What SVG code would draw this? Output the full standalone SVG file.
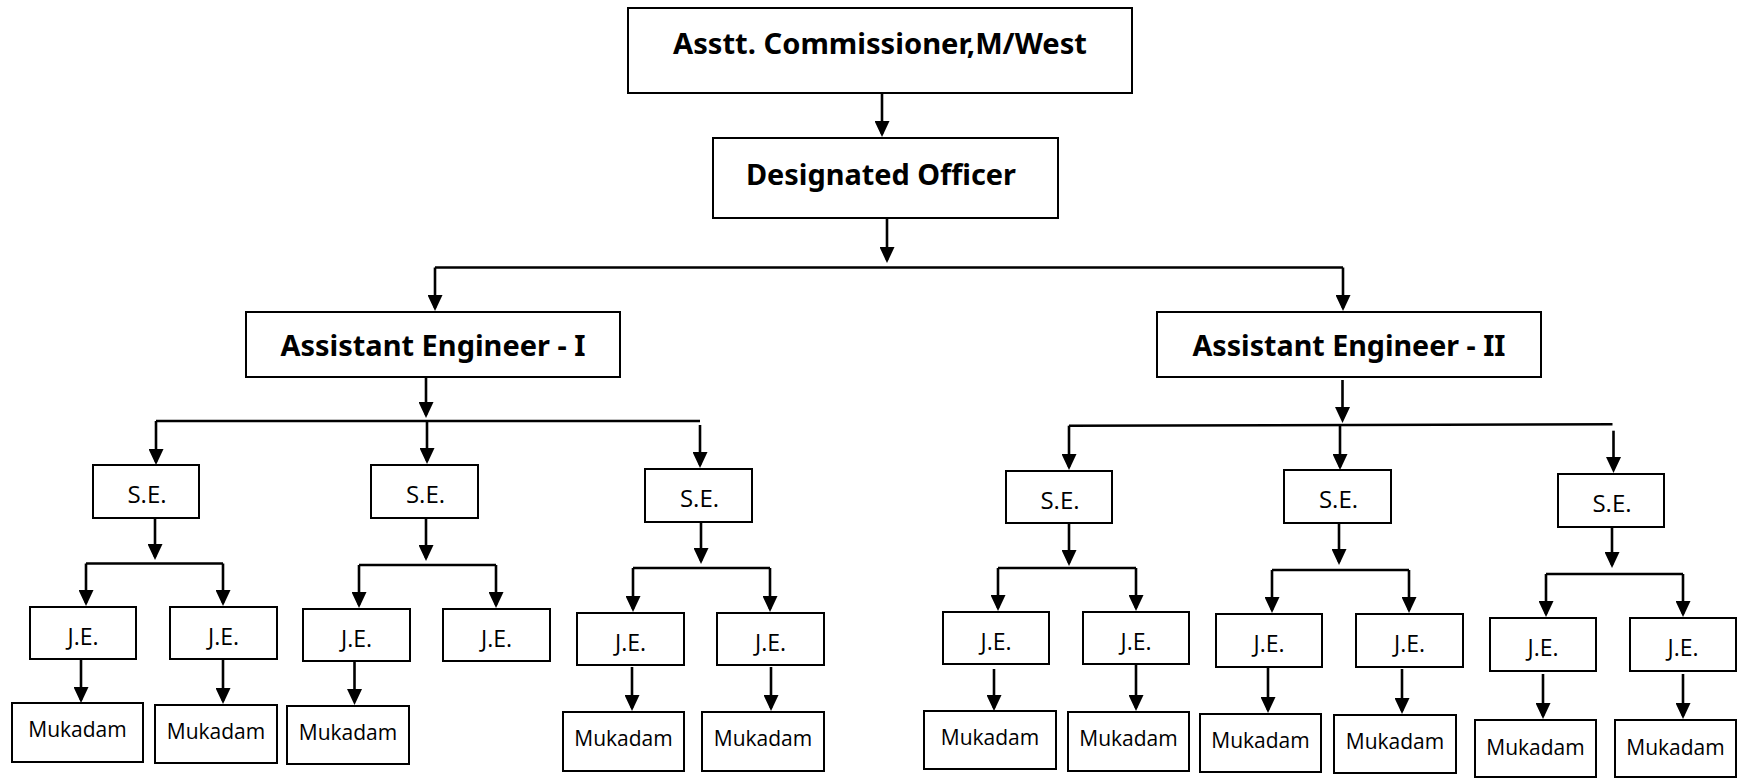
<svg xmlns="http://www.w3.org/2000/svg" width="1740" height="778" viewBox="0 0 1740 778">
<style>
.box{fill:#fff;stroke:#000;stroke-width:2}
.h{font-family:"Noto Sans","Liberation Sans",sans-serif;font-weight:bold;font-size:29px;fill:#000;text-anchor:middle}
.t{font-family:"Open Sans","Liberation Sans",sans-serif;font-size:23px;fill:#000;text-anchor:middle}
.s{font-family:"Open Sans","Liberation Sans",sans-serif;font-size:24px;fill:#000;text-anchor:middle}
.m{font-family:"Open Sans","Liberation Sans",sans-serif;font-size:21px;fill:#000;text-anchor:middle}
.c{fill:none;stroke:#000;stroke-width:2.6}
.a{marker-end:url(#ah)}
</style>
<defs>
<marker id="ah" viewBox="0 0 16 15" markerWidth="16" markerHeight="15" refX="13" refY="7.5" orient="auto" markerUnits="userSpaceOnUse">
<path d="M0,0 L16,7.5 L0,15 z" fill="#000"/>
</marker>
</defs>
<rect width="1740" height="778" fill="#fff"/>
<g id="connectors">
<path class="c a" d="M882,93 V134"/>
<path class="c a" d="M887,218 V260"/>
<path class="c" d="M435,267.5 H1343"/>
<path class="c a" d="M435,267.5 V308"/>
<path class="c a" d="M1343,267.5 V308"/>
<path class="c a" d="M426,377 V415"/>
<path class="c" d="M156,421 H700"/>
<path class="c a" d="M156,421 V462"/>
<path class="c a" d="M427,421 V461"/>
<path class="c a" d="M700,425 V465"/>
<path class="c a" d="M155,518 V557"/>
<path class="c" d="M86,563.5 H223"/>
<path class="c a" d="M86,563.5 V603"/>
<path class="c a" d="M223,563.5 V603"/>
<path class="c a" d="M81,659 V700"/>
<path class="c a" d="M223,659 V701"/>
<path class="c a" d="M426,518 V558"/>
<path class="c" d="M359,565 H496"/>
<path class="c a" d="M359,565 V605"/>
<path class="c a" d="M496,565 V605"/>
<path class="c a" d="M354.5,661 V702"/>
<path class="c a" d="M701,522 V561"/>
<path class="c" d="M633,568 H770"/>
<path class="c a" d="M633,568 V609"/>
<path class="c a" d="M770,568 V609"/>
<path class="c a" d="M632,667 V708"/>
<path class="c a" d="M771,667 V708"/>
<path class="c a" d="M1342.5,380 V420"/>
<path class="c" d="M1069,425.7 L1612.5,424.3"/>
<path class="c a" d="M1069,425.7 V467"/>
<path class="c a" d="M1340,425 V467"/>
<path class="c a" d="M1613.5,430.7 V470"/>
<path class="c a" d="M1069,523 V563"/>
<path class="c" d="M998,568 H1136"/>
<path class="c a" d="M998,568 V608"/>
<path class="c a" d="M1136,568 V608"/>
<path class="c a" d="M994,669 V708"/>
<path class="c a" d="M1136,664 V708"/>
<path class="c a" d="M1339,523 V562"/>
<path class="c" d="M1272,570 H1409"/>
<path class="c a" d="M1272,570 V610"/>
<path class="c a" d="M1409,570 V610"/>
<path class="c a" d="M1268,667 V710"/>
<path class="c a" d="M1402,669 V711"/>
<path class="c a" d="M1612,527 V565"/>
<path class="c" d="M1546,574 H1683"/>
<path class="c a" d="M1546,574 V614"/>
<path class="c a" d="M1683,574 V614"/>
<path class="c a" d="M1543,674 V716"/>
<path class="c a" d="M1683,674 V716"/>
</g>
<g id="n-top"><rect class="box" x="628" y="8" width="504" height="85"/><text class="h" x="880" y="54" textLength="414" lengthAdjust="spacingAndGlyphs">Asstt. Commissioner,M/West</text></g>
<g id="n-do"><rect class="box" x="713" y="138" width="345" height="80"/><text class="h" x="881" y="185" textLength="270" lengthAdjust="spacingAndGlyphs">Designated Officer</text></g>
<g id="n-ae1"><rect class="box" x="246" y="312" width="374" height="65"/><text class="h" x="433" y="356" textLength="305" lengthAdjust="spacingAndGlyphs">Assistant Engineer - I</text></g>
<g id="n-ae2"><rect class="box" x="1157" y="312" width="384" height="65"/><text class="h" x="1349" y="356" textLength="313" lengthAdjust="spacingAndGlyphs">Assistant Engineer - II</text></g>
<g id="n-se1"><rect class="box" x="93" y="465" width="106" height="53"/><text class="s" x="147" y="503">S.E.</text></g>
<g id="n-se2"><rect class="box" x="371" y="465" width="107" height="53"/><text class="s" x="425.5" y="503">S.E.</text></g>
<g id="n-se3"><rect class="box" x="645" y="469" width="107" height="53"/><text class="s" x="699.5" y="507">S.E.</text></g>
<g id="n-se4"><rect class="box" x="1006" y="471" width="106" height="52"/><text class="s" x="1060" y="509">S.E.</text></g>
<g id="n-se5"><rect class="box" x="1284" y="470" width="107" height="53"/><text class="s" x="1338.5" y="508">S.E.</text></g>
<g id="n-se6"><rect class="box" x="1558" y="474" width="106" height="53"/><text class="s" x="1612" y="512">S.E.</text></g>
<g id="n-je1"><rect class="box" x="30" y="607" width="106" height="52"/><text class="t" x="83" y="645">J.E.</text></g>
<g id="n-je2"><rect class="box" x="170" y="607" width="107" height="52"/><text class="t" x="223.5" y="645">J.E.</text></g>
<g id="n-je3"><rect class="box" x="303" y="609" width="107" height="52"/><text class="t" x="356.5" y="647">J.E.</text></g>
<g id="n-je4"><rect class="box" x="443" y="609" width="107" height="52"/><text class="t" x="496.5" y="647">J.E.</text></g>
<g id="n-je5"><rect class="box" x="577" y="613" width="107" height="52"/><text class="t" x="630.5" y="651">J.E.</text></g>
<g id="n-je6"><rect class="box" x="717" y="613" width="107" height="52"/><text class="t" x="770.5" y="651">J.E.</text></g>
<g id="n-je7"><rect class="box" x="943" y="612" width="106" height="52"/><text class="t" x="996" y="650">J.E.</text></g>
<g id="n-je8"><rect class="box" x="1083" y="612" width="106" height="52"/><text class="t" x="1136" y="650">J.E.</text></g>
<g id="n-je9"><rect class="box" x="1216" y="614" width="106" height="53"/><text class="t" x="1269" y="652">J.E.</text></g>
<g id="n-je10"><rect class="box" x="1356" y="614" width="107" height="53"/><text class="t" x="1409.5" y="652">J.E.</text></g>
<g id="n-je11"><rect class="box" x="1490" y="618" width="106" height="53"/><text class="t" x="1543" y="656">J.E.</text></g>
<g id="n-je12"><rect class="box" x="1630" y="618" width="106" height="53"/><text class="t" x="1683" y="656">J.E.</text></g>
<g id="n-mk1"><rect class="box" x="12" y="703" width="131" height="59"/><text class="m" x="77.5" y="737">Mukadam</text></g>
<g id="n-mk2"><rect class="box" x="155" y="705" width="122" height="58"/><text class="m" x="216" y="739">Mukadam</text></g>
<g id="n-mk3"><rect class="box" x="287" y="706" width="122" height="58"/><text class="m" x="348" y="740">Mukadam</text></g>
<g id="n-mk5"><rect class="box" x="563" y="712" width="121" height="59"/><text class="m" x="623.5" y="746">Mukadam</text></g>
<g id="n-mk6"><rect class="box" x="702" y="712" width="122" height="59"/><text class="m" x="763" y="746">Mukadam</text></g>
<g id="n-mk7"><rect class="box" x="924" y="711" width="132" height="58"/><text class="m" x="990" y="745">Mukadam</text></g>
<g id="n-mk8"><rect class="box" x="1068" y="712" width="121" height="59"/><text class="m" x="1128.5" y="746">Mukadam</text></g>
<g id="n-mk9"><rect class="box" x="1200" y="714" width="121" height="58"/><text class="m" x="1260.5" y="748">Mukadam</text></g>
<g id="n-mk10"><rect class="box" x="1334" y="715" width="122" height="58"/><text class="m" x="1395" y="749">Mukadam</text></g>
<g id="n-mk11"><rect class="box" x="1475" y="720" width="121" height="57"/><text class="m" x="1535.5" y="755">Mukadam</text></g>
<g id="n-mk12"><rect class="box" x="1615" y="720" width="121" height="57"/><text class="m" x="1675.5" y="755">Mukadam</text></g>
</svg>
